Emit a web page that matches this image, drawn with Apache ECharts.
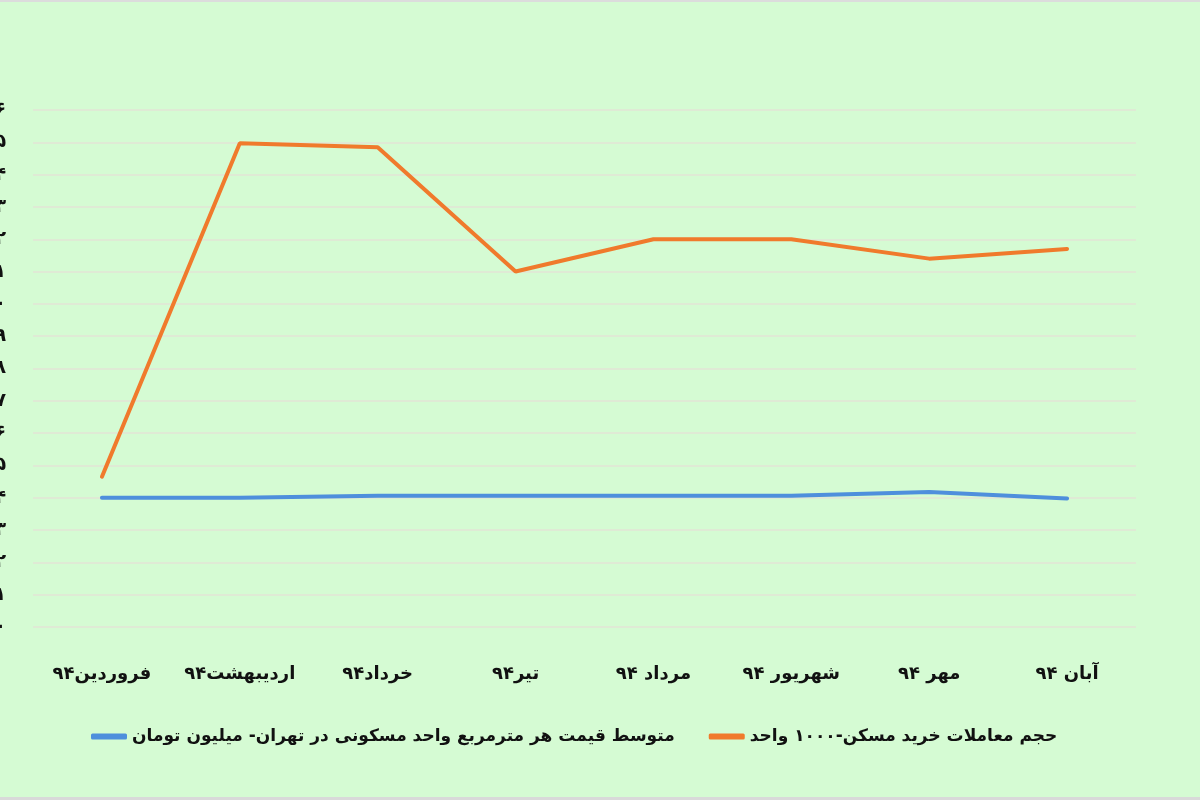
<!DOCTYPE html>
<html>
<head>
<meta charset="utf-8">
<script src="https://cdn.jsdelivr.net/npm/echarts@6/dist/echarts.min.js"></script>
<style>
  html, body { margin: 0; padding: 0; background: #d5fbd3; }
  #chart { width: 1200px; height: 800px; }
</style>
</head>
<body>
<div id="chart"></div>
<script>
// ماه‌های ۱۳۹۴
var months = ['فروردین۹۴', 'اردیبهشت۹۴', 'خرداد۹۴', 'تیر۹۴', 'مرداد ۹۴', 'شهریور ۹۴', 'مهر ۹۴', 'آبان ۹۴']

var priceName = 'متوسط قیمت هر مترمربع واحد مسکونی در تهران- میلیون تومان'
var volumeName = 'حجم معاملات خرید مسکن-۱۰۰۰ واحد'

// میلیون تومان
var price = [4.0, 4.0, 4.06, 4.06, 4.06, 4.06, 4.18, 3.98]
// هزار واحد
var volume = [4.65, 14.97, 14.85, 11.0, 12.0, 12.0, 11.4, 11.7]

var faDigits = '۰۱۲۳۴۵۶۷۸۹'
function toFa(n) {
  return String(n).replace(/\d/g, function (d) { return faDigits[+d] })
}

var font = "'DejaVu Sans', sans-serif"

var chart = echarts.init(document.getElementById('chart'))
chart.setOption({
  backgroundColor: '#d5fbd3',
  animation: false,
  grid: { left: 33, right: 64, top: 110, bottom: 173, containLabel: false, outerBoundsMode: 'none' },
  legend: {
    bottom: 50,
    left: 86,
    itemWidth: 36,
    itemHeight: 6,
    itemGap: 34,
    icon: 'roundRect',
    textStyle: { fontFamily: font, fontSize: 17, fontWeight: 'bold', color: '#111' },
    data: [priceName, volumeName]
  },
  xAxis: {
    type: 'category',
    data: months,
    boundaryGap: true,
    axisLine: { show: false },
    axisTick: { show: false },
    axisLabel: { interval: 0, margin: 38, fontFamily: font, fontSize: 18, fontWeight: 'bold', color: '#111' }
  },
  yAxis: {
    type: 'value',
    min: 0,
    max: 16,
    interval: 1,
    axisLine: { show: false },
    axisTick: { show: false },
    splitLine: { lineStyle: { color: '#e2e4d6', width: 1.5 } },
    axisLabel: {
      margin: 27,
      fontFamily: font,
      fontSize: 19,
      fontWeight: 'bold',
      color: '#111',
      formatter: function (v) { return toFa(v) }
    }
  },
  series: [
    {
      name: priceName,
      type: 'line',
      data: price,
      showSymbol: false,
      lineStyle: { color: '#4e8fdc', width: 4, cap: 'round' },
      itemStyle: { color: '#4e8fdc' }
    },
    {
      name: volumeName,
      type: 'line',
      data: volume,
      showSymbol: false,
      lineStyle: { color: '#f07a2c', width: 4, cap: 'round' },
      itemStyle: { color: '#f07a2c' }
    }
  ],
  graphic: [
    { type: 'rect', left: 0, top: 0, shape: { width: 1200, height: 2 }, style: { fill: '#dcdcdc' } },
    { type: 'rect', left: 0, bottom: 0, shape: { width: 1200, height: 3 }, style: { fill: '#d9d9d9' } }
  ]
})
</script>
</body>
</html>
